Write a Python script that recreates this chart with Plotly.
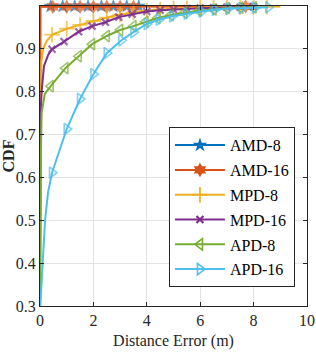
import plotly.graph_objects as go

# ---- data ----
series_names = ["AMD-8", "AMD-16", "MPD-8", "MPD-16", "APD-8", "APD-16"]

amd8_x = [0, 0.01, 0.4, 0.85, 1.3, 1.8, 2.3, 2.75, 3.25, 3.7]
amd8_y = [0.3, 0.9995, 0.9995, 0.9995, 0.9995, 0.9995, 0.9995, 0.9995, 0.9995, 0.9995]

amd16_x = [0, 0.01, 0.48, 1.0, 1.5, 2.0, 2.5, 3.0, 3.5, 7.7]
amd16_y = [0.3, 0.998, 0.998, 0.998, 0.998, 0.998, 0.998, 0.998, 0.998, 0.999]

mpd8_x = [0, 0.02, 0.05, 0.12, 0.25, 0.45, 1.0, 1.5, 2.0, 2.5, 3.0, 3.5, 4.0, 4.5,
          5.0, 5.5, 6.0, 6.5, 7.0, 7.5, 8.0, 8.5, 9.0]
mpd8_y = [0.3, 0.8, 0.87, 0.9, 0.918, 0.933, 0.947, 0.956, 0.965, 0.973, 0.98, 0.985,
          0.989, 0.992, 0.994, 0.995, 0.996, 0.997, 0.997, 0.998, 0.998, 0.999, 0.999]

mpd16_x = [0, 0.02, 0.06, 0.15, 0.3, 0.45, 0.9, 1.45, 1.95, 2.45, 2.95, 3.45, 4.0,
           4.5, 5.0, 5.5, 6.0, 6.5, 7.0, 7.5, 8.0]
mpd16_y = [0.3, 0.75, 0.8, 0.86, 0.885, 0.899, 0.917, 0.94, 0.953, 0.962, 0.974,
           0.981, 0.987, 0.99, 0.992, 0.994, 0.995, 0.996, 0.997, 0.997, 0.998]

apd8_x = [0, 0.02, 0.06, 0.18, 0.4, 0.95, 1.45, 1.95, 2.5, 3.0, 3.5, 3.95, 4.4,
          4.9, 5.4, 5.95, 6.5, 7.0, 7.5, 8.0]
apd8_y = [0.3, 0.6, 0.75, 0.795, 0.813, 0.855, 0.883, 0.911, 0.93, 0.944, 0.953,
          0.963, 0.972, 0.979, 0.984, 0.989, 0.992, 0.995, 0.996, 0.997]

apd16_x = [0.01, 0.09, 0.19, 0.3, 0.45, 1.0, 1.5, 2.0, 2.5, 3.05, 3.5, 4.0, 4.45,
           4.95, 5.5, 6.05, 6.55, 7.05, 7.55, 8.05, 8.55]
apd16_y = [0.3, 0.4, 0.5, 0.565, 0.611, 0.713, 0.783, 0.841, 0.89, 0.92, 0.939,
           0.958, 0.968, 0.976, 0.982, 0.987, 0.991, 0.994, 0.995, 0.996, 0.997]

x_ticks = [0, 2, 4, 6, 8, 10]
y_ticks = [0.3, 0.4, 0.5, 0.6, 0.7, 0.8, 0.9]

# ---- styles ----
colors = ["#0072BD", "#D95319", "#EDB120", "#7E2F8E", "#77AC30", "#4DBEEE"]
symbols = ["star", "hexagram", "cross-thin-open", "x-thin-open",
           "triangle-left-open", "triangle-right-open"]
msizes = [11, 11, 11, 7, 10, 10]
mlw = [0, 0, 1.8, 2.2, 1.6, 1.6]

xs = [amd8_x, amd16_x, mpd8_x, mpd16_x, apd8_x, apd16_x]
ys = [amd8_y, amd16_y, mpd8_y, mpd16_y, apd8_y, apd16_y]

FONT = "Liberation Serif, Times New Roman, Times, serif"
TXT = "#262626"
fig = go.Figure()

for i, name in enumerate(series_names):
    sizes = [msizes[i] if 0.35 <= xv <= 8.6 else 0 for xv in xs[i]]
    fig.add_trace(go.Scatter(
        x=xs[i], y=ys[i], mode="lines+markers", name=name,
        line=dict(color=colors[i], width=2),
        marker=dict(symbol=symbols[i], size=sizes, color=colors[i],
                    line=dict(color=colors[i], width=mlw[i])),
        showlegend=False, cliponaxis=False, legendgroup=name,
    ))

for i, name in enumerate(series_names):
    fig.add_trace(go.Scatter(
        x=[None], y=[None], mode="lines+markers", name=name,
        line=dict(color=colors[i], width=2),
        marker=dict(symbol=symbols[i], size=msizes[i], color=colors[i],
                    line=dict(color=colors[i], width=mlw[i])),
        showlegend=True, legendgroup=name,
    ))

axis_common = dict(
    showline=True, linecolor=TXT, linewidth=1, mirror="ticks",
    ticks="inside", ticklen=4, tickcolor=TXT,
    showgrid=True, gridcolor="#e3e3e3", gridwidth=1, zeroline=False,
    tickfont=dict(family=FONT, size=16, color=TXT),
    automargin=False,
)

fig.update_layout(
    width=316, height=363,
    margin=dict(l=40, r=9, t=6, b=57, autoexpand=False),
    paper_bgcolor="white", plot_bgcolor="white",
    font=dict(family=FONT, color=TXT),
    xaxis=dict(range=[0, 10], tickvals=x_ticks, ticktext=[str(v) for v in x_ticks],
               title=dict(text="Distance Error (m)", font=dict(family=FONT, size=16, color=TXT),
                          standoff=6),
               **axis_common),
    yaxis=dict(range=[0.3, 1.0], tickvals=y_ticks, ticktext=[f"{v:.1f}" for v in y_ticks],
               title=dict(text="<b>CDF</b>", font=dict(family=FONT, size=16, color=TXT),
                          standoff=2),
               **axis_common),
    legend=dict(x=0.483, y=0.596, xanchor="left", yanchor="top",
                bgcolor="white", bordercolor=TXT, borderwidth=1,
                font=dict(family=FONT, size=16, color="#000000"),
                tracegroupgap=1, itemwidth=50),
)

fig.write_html(
    "out.html",
    config={"displayModeBar": False},
    post_script="document.body.style.margin='0';document.body.style.overflow='hidden';",
)
